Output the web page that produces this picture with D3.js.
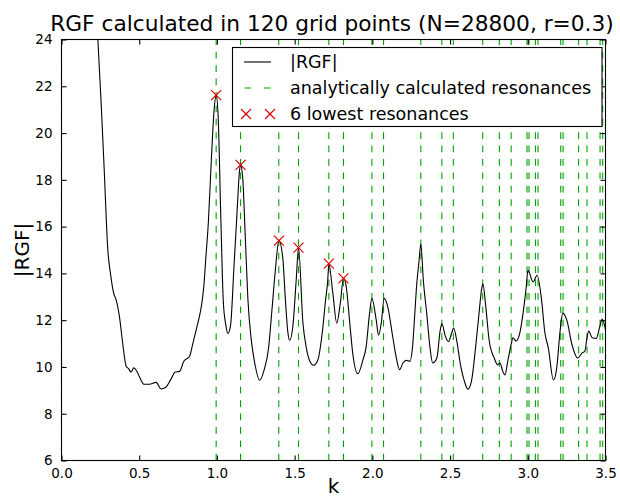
<!DOCTYPE html>
<html>
<head>
<meta charset="utf-8">
<script src="https://cdn.jsdelivr.net/npm/d3@7/dist/d3.min.js"></script>
<style>
  html, body { margin: 0; padding: 0; background: #fff; }
  svg { display: block; font-family: "DejaVu Sans", sans-serif; }
</style>
</head>
<body>
<svg id="chart" width="620" height="499"></svg>
<script>
// ---- data ----
const kValues = [0.215,0.234,0.255,0.275,0.298,0.315,0.336,0.352,0.373,0.394,0.416,0.431,0.448,0.465,0.481,0.502,0.530,0.566,0.609,0.641,0.669,0.706,0.731,0.759,0.787,0.824,0.845,0.867,0.880,0.900,0.915,0.928,0.945,0.965,0.982,0.995,1.008,1.025,1.041,1.057,1.070,1.088,1.109,1.131,1.145,1.152,1.166,1.182,1.199,1.220,1.246,1.274,1.306,1.332,1.353,1.375,1.399,1.424,1.440,1.456,1.468,1.488,1.510,1.525,1.553,1.574,1.600,1.621,1.649,1.677,1.699,1.713,1.720,1.745,1.771,1.795,1.814,1.832,1.853,1.874,1.906,1.939,1.960,1.982,1.997,2.025,2.040,2.057,2.076,2.099,2.131,2.153,2.175,2.197,2.219,2.241,2.258,2.273,2.284,2.300,2.312,2.328,2.350,2.371,2.388,2.415,2.436,2.447,2.469,2.490,2.508,2.523,2.545,2.567,2.593,2.615,2.637,2.664,2.686,2.702,2.711,2.730,2.752,2.784,2.806,2.821,2.839,2.853,2.871,2.893,2.904,2.925,2.947,2.969,2.990,3.001,3.034,3.060,3.088,3.110,3.132,3.165,3.186,3.208,3.225,3.252,3.284,3.321,3.350,3.367,3.381,3.392,3.414,3.441,3.462,3.479,3.500];
const rgfValues = [27.0,24.0,21.3,18.4,15.0,14.0,13.14,12.86,12.14,11.0,10.03,9.93,9.78,9.96,9.86,9.57,9.26,9.26,9.34,9.06,9.12,9.50,9.78,9.81,10.24,10.46,11.0,11.6,11.95,12.6,13.4,14.6,16.2,19.0,21.0,21.64,20.7,16.4,12.8,11.8,11.43,11.8,14.2,16.8,18.36,18.64,18.07,15.64,12.93,11.21,10.07,9.43,9.93,10.79,12.36,14.07,15.4,14.64,12.93,11.5,11.14,11.71,13.71,15.1,11.9,10.86,10.21,10.07,10.29,11.43,12.86,13.71,14.4,13.2,11.87,12.8,13.79,13.43,12.0,10.57,9.71,10.29,10.86,12.29,12.93,12.0,11.36,11.86,12.93,12.57,11.29,10.43,9.88,10.17,10.28,10.24,10.82,12.27,13.42,14.5,15.25,13.71,12.27,10.82,10.17,10.38,11.54,11.86,11.33,11.08,11.4,11.66,11.04,10.09,9.37,9.05,9.37,10.82,12.27,13.28,13.55,12.56,11.11,10.38,10.09,10.17,9.81,9.66,10.24,10.96,11.25,11.11,11.4,12.27,13.42,14.13,13.63,13.92,12.9,11.46,10.82,9.44,9.95,11.54,12.3,11.98,10.96,10.38,10.6,10.67,11.25,11.54,11.25,11.22,11.69,12.05,11.6];
const resonances = [0.0,0.995,1.152,1.398,1.525,1.720,1.814,1.997,2.072,2.312,2.447,2.521,2.710,2.817,2.893,2.995,3.008,3.049,3.066,3.212,3.227,3.327,3.381,3.465,3.482];
const peakK = [0.995,1.152,1.399,1.525,1.720,1.814];
const peakV = [21.62,18.64,15.4,15.1,14.42,13.79];
const xTicks = [0.0,0.5,1.0,1.5,2.0,2.5,3.0,3.5];
const yTicks = [6,8,10,12,14,16,18,20,22,24];
const titleText = "RGF calculated in 120 grid points (N=28800, r=0.3)";
const legendLabels = ["|RGF|","analytically calculated resonances","6 lowest resonances"];

// ---- layout ----
const L = 61.5, R = 605.5, T = 39.5, B = 460.5;
const svg = d3.select("#chart");
const x = d3.scaleLinear().domain([0, 3.5]).range([L, R]);
const y = d3.scaleLinear().domain([6, 24]).range([B, T]);

svg.append("defs").append("clipPath").attr("id","clip")
  .append("rect").attr("x",L).attr("y",T).attr("width",R-L).attr("height",B-T);

// resonance lines (drawn from bottom up)
svg.append("g").attr("clip-path","url(#clip)")
  .selectAll("line").data(resonances).join("line")
  .attr("x1", d => x(d)).attr("x2", d => x(d))
  .attr("y1", y(6)).attr("y2", y(24))
  .attr("stroke","#00a000").attr("stroke-width",1.1)
  .attr("stroke-dasharray","6.7,6.7");

// curve
const pts = kValues.map((k,i) => [k, rgfValues[i]]);
const line = d3.line().x(d => x(d[0])).y(d => y(d[1])).curve(d3.curveMonotoneX);
svg.append("path").datum(pts).attr("clip-path","url(#clip)")
  .attr("d", line).attr("fill","none").attr("stroke","#000").attr("stroke-width",1.1);

// peak markers
function cross(g, cx, cy, s) {
  g.append("path").attr("d", `M${cx-s},${cy-s}L${cx+s},${cy+s}M${cx-s},${cy+s}L${cx+s},${cy-s}`)
    .attr("stroke","#dd0000").attr("stroke-width",1.2).attr("fill","none");
}
const mg = svg.append("g");
peakK.forEach((k,i) => cross(mg, x(k), y(peakV[i]), 5));

// axes frame
svg.append("rect").attr("x",L).attr("y",T).attr("width",R-L).attr("height",B-T)
  .attr("fill","none").attr("stroke","#000").attr("stroke-width",1.1);

// ticks (inside, on all sides)
const xb = d3.axisBottom(x).tickValues(xTicks).tickFormat(d3.format(".1f")).tickSizeInner(-5).tickSizeOuter(0).tickPadding(8);
const gx = svg.append("g").attr("transform",`translate(0,${B})`).call(xb);
const xt = d3.axisTop(x).tickValues(xTicks).tickFormat("").tickSizeInner(-5).tickSizeOuter(0);
const gxt = svg.append("g").attr("transform",`translate(0,${T})`).call(xt);
const yl = d3.axisLeft(y).tickValues(yTicks).tickFormat(d3.format("d")).tickSizeInner(-5).tickSizeOuter(0).tickPadding(9);
const gy = svg.append("g").attr("transform",`translate(${L},0)`).call(yl);
const yr = d3.axisRight(y).tickValues(yTicks).tickFormat("").tickSizeInner(-5).tickSizeOuter(0);
const gyr = svg.append("g").attr("transform",`translate(${R},0)`).call(yr);
[gx,gxt,gy,gyr].forEach(g => {
  g.select(".domain").remove();
  g.selectAll(".tick line").attr("stroke","#000").attr("stroke-width",1.1);
  g.selectAll(".tick text").attr("fill","#000").attr("font-size","13.5px").attr("font-family","DejaVu Sans");
});

// title & labels
svg.append("text").attr("x",332).attr("y",31).attr("text-anchor","middle")
  .attr("font-size","21.7px").attr("fill","#000").text(titleText);
svg.append("text").attr("x",(L+R)/2).attr("y",493).attr("text-anchor","middle")
  .attr("font-size","20px").attr("fill","#000").text("k");
svg.append("text").attr("transform",`translate(29,${(T+B)/2}) rotate(-90)`).attr("text-anchor","middle")
  .attr("font-size","20px").attr("fill","#000").text("|RGF|");

// legend
const lg = svg.append("g");
lg.append("rect").attr("x",232.5).attr("y",47.5).attr("width",369.5).attr("height",79)
  .attr("fill","#fff").attr("stroke","#000").attr("stroke-width",1.1);
const rows = [62, 88, 114];
lg.append("line").attr("x1",244).attr("x2",271).attr("y1",rows[0]).attr("y2",rows[0])
  .attr("stroke","#000").attr("stroke-width",1.1);
lg.append("line").attr("x1",244.5).attr("x2",271).attr("y1",rows[1]).attr("y2",rows[1])
  .attr("stroke","#00a000").attr("stroke-width",1.1).attr("stroke-dasharray","6.5,13");
cross(lg, 246, rows[2], 5);
cross(lg, 270, rows[2], 5);
legendLabels.forEach((t,i) => {
  lg.append("text").attr("x",290).attr("y",rows[i]).attr("dy","0.36em")
    .attr("font-size","17.5px").attr("fill","#000").text(t);
});
</script>
</body>
</html>
